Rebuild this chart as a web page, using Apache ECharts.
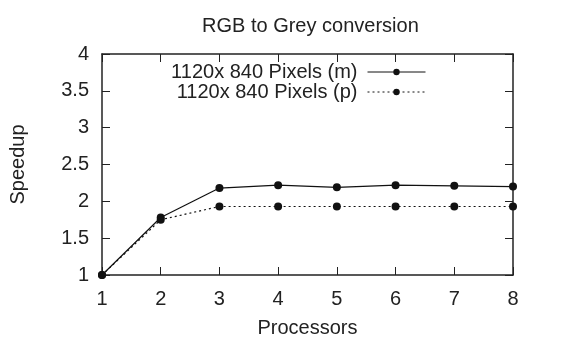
<!DOCTYPE html>
<html><head><meta charset="utf-8">
<script src="https://cdn.jsdelivr.net/npm/echarts@6/dist/echarts.min.js"></script>
<style>html,body{margin:0;padding:0;background:#fff}#c{width:563px;height:343px}</style>
</head><body><div id="c"></div>
<script>
const titleText = 'RGB to Grey conversion';
const xName = 'Processors';
const yName = 'Speedup';
const processors = [1, 2, 3, 4, 5, 6, 7, 8];
const seriesMName = '1120x 840 Pixels (m)';
const seriesPName = '1120x 840 Pixels (p)';
const speedupM = [1, 1.78, 2.18, 2.22, 2.19, 2.22, 2.21, 2.20];
const speedupP = [1, 1.75, 1.93, 1.93, 1.93, 1.93, 1.93, 1.93];

const font = 'Liberation Sans, Arial, Helvetica, sans-serif';
const ink = '#222';
const chart = echarts.init(document.getElementById('c'), null, {renderer: 'canvas'});
const pairs = (ys) => processors.map((x, i) => [x, ys[i]]);
const axisCommon = {
  axisLine: {show: true, lineStyle: {color: ink, width: 1.5}},
  axisTick: {show: true, inside: true, length: 8, lineStyle: {color: ink, width: 1}},
  splitLine: {show: false}
};
chart.setOption({
  animation: false,
  backgroundColor: '#fff',
  title: {text: titleText, left: 197, top: 11,
    textStyle: {fontFamily: font, fontSize: 20, fontWeight: 'normal', color: ink}},
  grid: {left: 101, right: 50, top: 54, bottom: 66, containLabel: false},
  legend: {
    orient: 'vertical', align: 'right', right: 137, top: 62, padding: 0,
    itemWidth: 58, itemHeight: 8, itemGap: 0,
    lineStyle: {width: 1},
    textStyle: {fontFamily: font, fontSize: 20, lineHeight: 20, height: 20, color: ink, padding: [0, 5, 0, 0]},
    data: [seriesMName, seriesPName]
  },
  xAxis: [
    Object.assign({}, axisCommon, {type: 'value', min: 1, max: 8, interval: 1, position: 'bottom',
      name: xName, nameLocation: 'middle', nameGap: 43,
      nameTextStyle: {fontFamily: font, fontSize: 20, color: ink},
      axisLabel: {fontFamily: font, fontSize: 20, color: ink, margin: 14}}),
    Object.assign({}, axisCommon, {type: 'value', min: 1, max: 8, interval: 1, position: 'top',
      axisLabel: {show: false}})
  ],
  yAxis: [
    Object.assign({}, axisCommon, {type: 'value', min: 1, max: 4, interval: 0.5, position: 'left',
      name: yName, nameLocation: 'middle', nameGap: 74, nameRotate: 90,
      nameTextStyle: {fontFamily: font, fontSize: 20, color: ink},
      axisLabel: {fontFamily: font, fontSize: 20, color: ink, margin: 13}}),
    Object.assign({}, axisCommon, {type: 'value', min: 1, max: 4, interval: 0.5, position: 'right',
      axisLabel: {show: false}})
  ],
  series: [
    {name: seriesMName, type: 'line', data: pairs(speedupM), symbol: 'circle', symbolSize: 8,
      itemStyle: {color: '#111'}, lineStyle: {color: '#111', width: 1.2, type: 'solid'}},
    {name: seriesPName, type: 'line', data: pairs(speedupP), symbol: 'circle', symbolSize: 8,
      itemStyle: {color: '#111'}, lineStyle: {color: '#111', width: 1.2, type: [2, 3]}}
  ]
});
</script></body></html>
